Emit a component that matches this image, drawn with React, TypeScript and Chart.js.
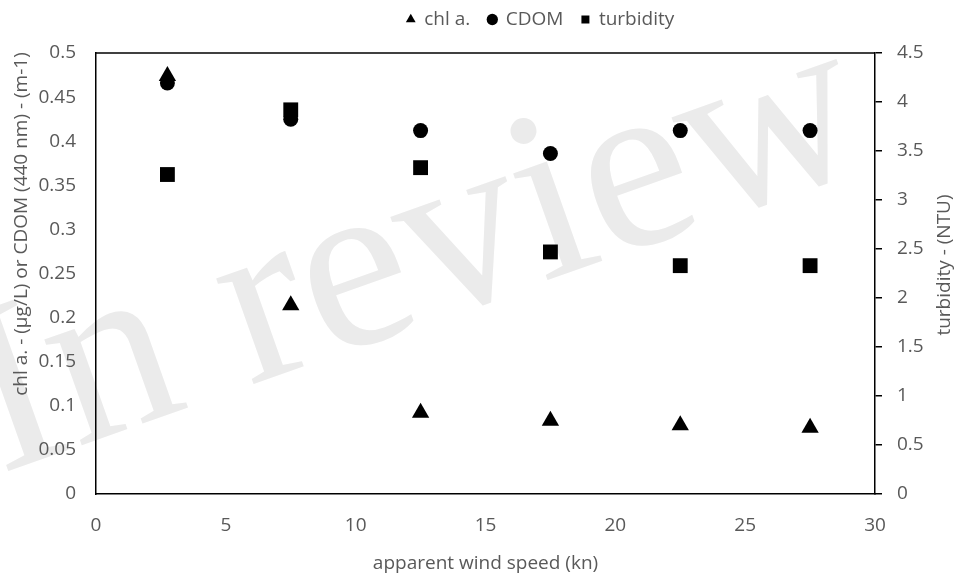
import React, { useEffect, useRef } from 'react';
import { Chart, registerables } from 'chart.js';

Chart.register(...registerables);

// ---- data ----
const windSpeed = [2.75, 7.5, 12.5, 17.5, 22.5, 27.5];
const chlA = [0.474, 0.214, 0.092, 0.083, 0.078, 0.075];
const cdom = [0.466, 0.425, 0.412, 0.386, 0.412, 0.412];
const turbidity = [3.26, 3.92, 3.33, 2.47, 2.33, 2.33];

const seriesNames = ['chl a.', 'CDOM', 'turbidity'];
const xTitle = 'apparent wind speed (kn)';
const yTitle = 'chl a. - (µg/L) or CDOM (440 nm) - (m-1)';
const y1Title = 'turbidity - (NTU)';
const watermarkText = 'In review';

const FONT = '"Open Sans", sans-serif';
const TEXT = '#595959';

const fmt = (v: number | string) => String(Number(Number(v).toFixed(2)));

const watermarkPlugin = {
  id: 'watermark',
  beforeDraw(chart: any) {
    const ctx = chart.ctx;
    ctx.save();
    ctx.translate(0, 474);
    ctx.rotate((-19.5 * Math.PI) / 180);
    ctx.font = '244px "Liberation Serif", serif';
    ctx.fillStyle = '#ebebeb';
    ctx.textBaseline = 'alphabetic';
    ctx.fillText(watermarkText, 0, 0);
    ctx.restore();
  },
};

const framePlugin = {
  id: 'frame',
  afterLayout(chart: any) {
    const lg = chart.legend;
    if (lg) {
      lg.left += 60;
      lg.right += 60;
      lg.top -= 14;
      lg.bottom -= 14;
    }
  },
  afterDatasetsDraw(chart: any) {
    const { ctx, chartArea } = chart;
    ctx.save();
    ctx.strokeStyle = '#000';
    ctx.lineWidth = 1.5;
    ctx.beginPath();
    ctx.moveTo(chartArea.left, chartArea.top);
    ctx.lineTo(chartArea.right, chartArea.top);
    ctx.stroke();
    ctx.restore();
  },
  afterDraw(chart: any) {
    const { ctx } = chart;
    ctx.save();
    ctx.fillStyle = TEXT;
    ctx.font = '19px ' + FONT;
    ctx.textAlign = 'center';
    ctx.textBaseline = 'middle';
    // left axis title (bottom-to-top)
    ctx.save();
    ctx.translate(22, 224);
    ctx.rotate(-Math.PI / 2);
    ctx.fillText(yTitle, 0, 0);
    ctx.restore();
    // right axis title (bottom-to-top)
    ctx.save();
    ctx.translate(945, 265);
    ctx.rotate(-Math.PI / 2);
    ctx.fillText(y1Title, 0, 0);
    ctx.restore();
    ctx.restore();
  },
};

export default function App() {
  const ref = useRef<HTMLCanvasElement | null>(null);

  useEffect(() => {
    if (!ref.current) return;
    const toPts = (ys: number[]) => windSpeed.map((x, i) => ({ x, y: ys[i] }));
    const chart = new Chart(ref.current, {
      type: 'scatter',
      data: {
        datasets: [
          {
            label: seriesNames[0],
            data: toPts(chlA),
            yAxisID: 'y',
            pointStyle: 'triangle',
            pointRadius: 10,
            backgroundColor: '#000',
            borderColor: '#000',
            borderWidth: 0,
          },
          {
            label: seriesNames[1],
            data: toPts(cdom),
            yAxisID: 'y',
            pointStyle: 'circle',
            pointRadius: 7.5,
            backgroundColor: '#000',
            borderColor: '#000',
            borderWidth: 0,
          },
          {
            label: seriesNames[2],
            data: toPts(turbidity),
            yAxisID: 'y1',
            pointStyle: 'rect',
            pointRadius: 10.5,
            backgroundColor: '#000',
            borderColor: '#000',
            borderWidth: 0,
          },
        ],
      },
      options: {
        responsive: false,
        animation: false,
        layout: { padding: { top: 6, left: 0, right: 0, bottom: 0 } },
        plugins: {
          tooltip: { enabled: false },
          legend: {
            display: true,
            position: 'top',
            labels: {
              usePointStyle: true,
              boxWidth: 8,
              boxHeight: 8,
              padding: 18,
              color: TEXT,
              font: { family: FONT, size: 19 },
            },
          },
        },
        scales: {
          x: {
            type: 'linear',
            position: 'bottom',
            min: 0,
            max: 30,
            ticks: {
              stepSize: 5,
              color: TEXT,
              font: { family: FONT, size: 19 },
              padding: 20,
              callback: (v: any) => fmt(v),
            },
            grid: { display: false, drawTicks: false },
            border: { display: true, color: '#000', width: 1.5 },
            title: {
              display: true,
              text: xTitle,
              color: TEXT,
              font: { family: FONT, size: 19 },
              padding: { top: 4, bottom: 2 },
            },
            afterFit: (s: any) => {
              s.height = 83;
            },
          },
          y: {
            type: 'linear',
            position: 'left',
            min: 0,
            max: 0.5,
            ticks: {
              stepSize: 0.05,
              color: TEXT,
              font: { family: FONT, size: 19 },
              padding: 20,
              callback: (v: any) => fmt(v),
            },
            grid: { display: false, drawTicks: false },
            border: { display: true, color: '#000', width: 1.5 },
            title: { display: false, text: yTitle },
            afterFit: (s: any) => {
              s.width = 96;
            },
          },
          y1: {
            type: 'linear',
            position: 'right',
            min: 0,
            max: 4.5,
            ticks: {
              stepSize: 0.5,
              color: TEXT,
              font: { family: FONT, size: 19 },
              padding: 15,
              callback: (v: any) => fmt(v),
            },
            grid: {
              display: true,
              drawOnChartArea: false,
              drawTicks: true,
              tickLength: 7,
              color: '#000',
              lineWidth: 1.5,
            },
            border: { display: true, color: '#000', width: 1.5 },
            title: { display: false, text: y1Title },
            afterFit: (s: any) => {
              s.width = 86;
            },
          },
        },
      },
      plugins: [watermarkPlugin, framePlugin],
    } as any);
    return () => chart.destroy();
  }, []);

  return (
    <div style={{ position: 'absolute', left: 0, top: 0, width: 961, height: 577, background: '#fff' }}>
      <canvas ref={ref} width={961} height={577} style={{ display: 'block' }} />
    </div>
  );
}
